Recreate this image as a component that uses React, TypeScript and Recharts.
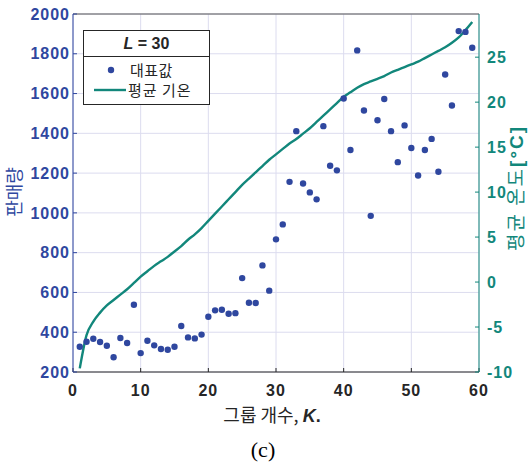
import React from 'react';
import { ComposedChart, Scatter, Line, XAxis, YAxis, CartesianGrid } from 'recharts';

// group count K
const groups = [
  1, 2, 3, 4, 5, 6, 7, 8, 9, 10,
  11, 12, 13, 14, 15, 16, 17, 18, 19, 20,
  21, 22, 23, 24, 25, 26, 27, 28, 29, 30,
  31, 32, 33, 34, 35, 36, 37, 38, 39, 40,
  41, 42, 43, 44, 45, 46, 47, 48, 49, 50,
  51, 52, 53, 54, 55, 56, 57, 58, 59,
];

// 대표값 (판매량)
const sales = [
  327, 352, 367, 351, 332, 274, 371, 346, 538, 295,
  357, 334, 316, 312, 327, 431, 374, 369, 388, 478,
  510, 513, 493, 496, 672, 548, 547, 736, 609, 867,
  942, 1156, 1411, 1148, 1103, 1068, 1436, 1237, 1214, 1575,
  1316, 1817, 1515, 985, 1466, 1573, 1411, 1255, 1440, 1326,
  1188, 1316, 1372, 1207, 1696, 1540, 1914, 1910, 1830,
];

// 평균 기온 [°C]
const temps = [
  -9.6, -5.9, -4.4, -3.4, -2.6, -2.0, -1.4, -0.8, -0.1, 0.6,
  1.2, 1.8, 2.3, 2.8, 3.4, 4.0, 4.7, 5.3, 6.0, 6.8,
  7.6, 8.4, 9.2, 10.0, 10.8, 11.5, 12.2, 12.9, 13.6, 14.2,
  14.8, 15.4, 15.9, 16.5, 17.1, 17.8, 18.5, 19.2, 19.9, 20.6,
  21.1, 21.6, 22.0, 22.3, 22.6, 22.9, 23.3, 23.6, 23.9, 24.2,
  24.5, 24.9, 25.3, 25.7, 26.1, 26.6, 27.2, 28.0, 28.9,
];

const xTicks = [0, 10, 20, 30, 40, 50, 60];
const salesTicks = [200, 400, 600, 800, 1000, 1200, 1400, 1600, 1800, 2000];
const tempTicks = [-10, -5, 0, 5, 10, 15, 20, 25];

const data = groups.map((k, i) => ({ k, sales: sales[i], temp: temps[i] }));

const BLUE = '#2f479f';
const TEAL = '#12877b';
const DARK = '#262626';
const GRID = '#dcdcef';
const FONT = '"Liberation Sans", Arial, sans-serif';
const KFONT = '"Noto Sans CJK KR", "Noto Sans", sans-serif';

const tickStyle = (fill: string) => ({
  fill,
  fontFamily: FONT,
  fontWeight: 700,
  fontSize: 16,
  letterSpacing: 1,
});

const Dot = (props: any) => {
  const { cx, cy } = props;
  if (cx == null || cy == null) return null;
  return <circle cx={cx} cy={cy} r={3.2} fill={BLUE} />;
};

const App: React.FC = () => {
  return (
    <div style={{ position: 'absolute', left: 0, top: 0, width: 530, height: 464, background: '#fff', overflow: 'hidden' }}>
      <ComposedChart
        width={530}
        height={464}
        data={data}
        margin={{ top: 13, right: 0, bottom: 62, left: 30 }}
      >
        <CartesianGrid yAxisId="left" stroke={GRID} strokeWidth={1} />
        <XAxis
          dataKey="k"
          type="number"
          domain={[0, 60]}
          ticks={xTicks}
          height={30}
          stroke={DARK}
          tickSize={-4}
          tickMargin={17}
          tick={tickStyle(DARK)}
        />
        <XAxis
          xAxisId="top"
          orientation="top"
          type="number"
          domain={[0, 60]}
          ticks={xTicks}
          height={1}
          stroke="#555"
          tickSize={-4}
          tick={false}
        />
        <YAxis
          yAxisId="left"
          domain={[200, 2000]}
          ticks={salesTicks}
          width={43}
          stroke={BLUE}
          tickSize={-4}
          tickMargin={7}
          tick={tickStyle(BLUE)}
        />
        <YAxis
          yAxisId="right"
          orientation="right"
          domain={[-10, 29.8]}
          ticks={tempTicks}
          allowDataOverflow
          width={51}
          stroke={TEAL}
          tickSize={-4}
          tickMargin={12}
          tick={tickStyle(TEAL)}
        />
        <Scatter yAxisId="left" dataKey="sales" shape={Dot} isAnimationActive={false} />
        <Line
          yAxisId="right"
          dataKey="temp"
          type="monotone"
          stroke={TEAL}
          strokeWidth={2.4}
          dot={false}
          isAnimationActive={false}
        />
      </ComposedChart>

      {/* legend */}
      <div
        style={{
          position: 'absolute',
          left: 83,
          top: 30,
          width: 125,
          height: 73,
          border: `1px solid ${DARK}`,
          background: '#fff',
          fontFamily: KFONT,
          color: DARK,
        }}
      >
        <div
          style={{
            height: 25,
            borderBottom: `1px solid ${DARK}`,
            textAlign: 'center',
            fontFamily: FONT,
            fontWeight: 700,
            fontSize: 16,
            lineHeight: '25px',
          }}
        >
          <i>L</i> = 30
        </div>
        <div style={{ position: 'relative', height: 20, marginTop: 3 }}>
          <svg width={40} height={20} style={{ position: 'absolute', left: 10, top: 0 }}>
            <circle cx={17} cy={10} r={3.2} fill={BLUE} />
          </svg>
          <span style={{ position: 'absolute', left: 46, top: 2, fontSize: 15, lineHeight: '16px', letterSpacing: 0.5 }}>대표값</span>
        </div>
        <div style={{ position: 'relative', height: 20 }}>
          <svg width={40} height={20} style={{ position: 'absolute', left: 10, top: 0 }}>
            <line x1={0} y1={10} x2={32} y2={10} stroke={TEAL} strokeWidth={2.4} />
          </svg>
          <span style={{ position: 'absolute', left: 44, top: 2, fontSize: 15, lineHeight: '16px', letterSpacing: 1 }}>평균 기온</span>
        </div>
      </div>

      {/* left axis label */}
      <div
        style={{
          position: 'absolute',
          left: 13,
          top: 192,
          transform: 'translate(-50%, -50%) rotate(-90deg)',
          whiteSpace: 'nowrap',
          fontFamily: KFONT,
          fontSize: 18,
          lineHeight: '20px',
          color: BLUE,
        }}
      >
        판매량
      </div>

      {/* right axis label */}
      <div
        style={{
          position: 'absolute',
          left: 516,
          top: 188,
          transform: 'translate(-50%, -50%) rotate(-90deg)',
          whiteSpace: 'nowrap',
          fontFamily: KFONT,
          fontSize: 19,
          lineHeight: '20px',
          letterSpacing: 2,
          color: TEAL,
        }}
      >
        평균 온도<b style={{ fontFamily: FONT }}>[°C]</b>
      </div>

      {/* x axis label */}
      <div
        style={{
          position: 'absolute',
          left: 272,
          top: 415,
          transform: 'translate(-50%, -50%)',
          whiteSpace: 'nowrap',
          fontFamily: KFONT,
          fontSize: 18,
          lineHeight: '20px',
          color: DARK,
        }}
      >
        그룹 개수, <b style={{ fontFamily: FONT }}><i>K</i>.</b>
      </div>

      {/* sub caption */}
      <div
        style={{
          position: 'absolute',
          left: 263,
          top: 450,
          transform: 'translate(-50%, -50%)',
          whiteSpace: 'nowrap',
          fontFamily: '"Liberation Serif", "DejaVu Serif", serif',
          fontSize: 22,
          lineHeight: '24px',
          color: '#000',
        }}
      >
        (c)
      </div>
    </div>
  );
};

export default App;
